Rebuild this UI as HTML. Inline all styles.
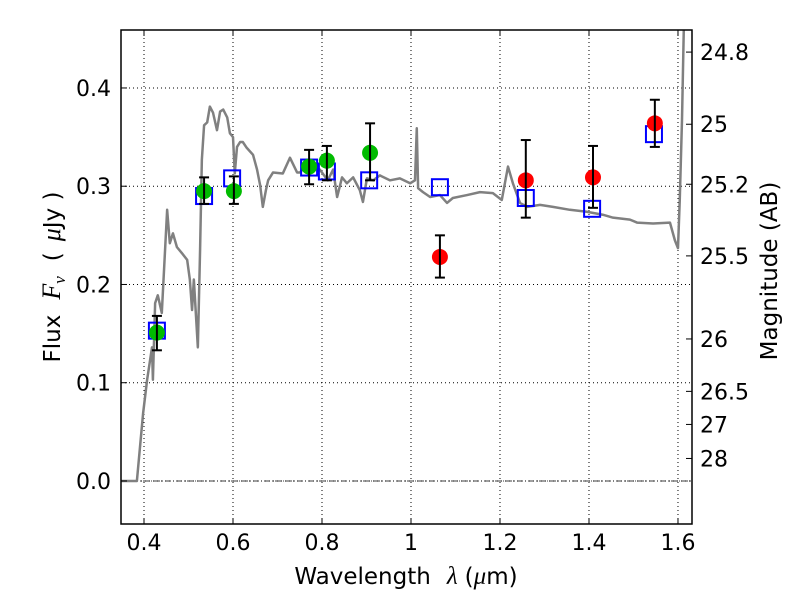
<!DOCTYPE html>
<html><head><meta charset="utf-8"><style>
body{margin:0;background:#fff;}
svg{display:block;font-family:"DejaVu Sans","Liberation Sans",sans-serif;}
</style></head><body>
<svg id="chart" width="800" height="600" xmlns="http://www.w3.org/2000/svg"></svg>
<script>
const specWave=[0.348,0.384,0.398,0.407,0.418,0.420,0.425,0.431,0.440,0.452,0.458,0.465,0.474,0.485,0.497,0.503,0.508,0.512,0.521,0.526,0.530,0.535,0.542,0.548,0.555,0.564,0.571,0.578,0.587,0.593,0.600,0.604,0.609,0.616,0.622,0.631,0.645,0.654,0.661,0.667,0.674,0.679,0.690,0.712,0.728,0.744,0.751,0.766,0.780,0.795,0.813,0.825,0.834,0.845,0.856,0.870,0.885,0.892,0.901,0.915,0.930,0.953,0.975,0.998,1.009,1.013,1.016,1.027,1.043,1.065,1.081,1.094,1.126,1.155,1.184,1.204,1.218,1.229,1.245,1.261,1.290,1.319,1.357,1.395,1.431,1.454,1.492,1.508,1.544,1.582,1.593,1.600,1.604,1.609,1.613,1.618];
const specFlux=[0,0,0.069,0.103,0.136,0.103,0.181,0.189,0.171,0.276,0.242,0.252,0.238,0.232,0.225,0.205,0.174,0.205,0.136,0.235,0.327,0.362,0.365,0.381,0.375,0.357,0.376,0.378,0.370,0.354,0.350,0.313,0.340,0.345,0.345,0.339,0.332,0.317,0.301,0.279,0.296,0.306,0.314,0.313,0.329,0.314,0.314,0.324,0.319,0.317,0.306,0.317,0.289,0.309,0.303,0.309,0.296,0.284,0.308,0.306,0.311,0.306,0.308,0.303,0.306,0.359,0.298,0.294,0.289,0.291,0.283,0.288,0.291,0.294,0.293,0.286,0.320,0.303,0.283,0.279,0.281,0.279,0.276,0.274,0.271,0.268,0.266,0.263,0.262,0.263,0.245,0.237,0.286,0.367,0.459,0.540];
const greenWave=[0.429,0.535,0.602,0.771,0.811,0.908];
const greenFlux=[0.151,0.295,0.295,0.320,0.326,0.334];
const greenHi=[0.168,0.309,0.310,0.337,0.341,0.364];
const greenLo=[0.133,0.282,0.282,0.302,0.306,0.306];
const redWave=[1.065,1.258,1.409,1.548];
const redFlux=[0.228,0.306,0.309,0.364];
const redHi=[0.250,0.347,0.341,0.388];
const redLo=[0.207,0.268,0.278,0.340];
const blueWave=[0.429,0.535,0.598,0.771,0.811,0.906,1.065,1.258,1.407,1.546];
const blueFlux=[0.153,0.290,0.308,0.319,0.315,0.306,0.299,0.288,0.277,0.353];
const xTicks=[0.4,0.6,0.8,1,1.2,1.4,1.6];
const xTickLabels=["0.4","0.6","0.8","1","1.2","1.4","1.6"];
const yTicks=[0,0.1,0.2,0.3,0.4];
const yTickLabels=["0.0","0.1","0.2","0.3","0.4"];
const magTicks=[24.8,25,25.2,25.5,26,26.5,27,28];
const magLabels=["24.8","25","25.2","25.5","26","26.5","27","28"];

const L=121,R=692,T=30,B=524;
const xmin=0.3483,xmax=1.6315,ymin=-0.0438,ymax=0.459;
const X=v=>L+(v-xmin)/(xmax-xmin)*(R-L);
const Y=v=>B-(v-ymin)/(ymax-ymin)*(B-T);
const NS="http://www.w3.org/2000/svg";
const svg=document.getElementById('chart');
function mk(tag,attrs,parent){const e=document.createElementNS(NS,tag);for(const k in attrs)e.setAttribute(k,attrs[k]);(parent||svg).appendChild(e);return e;}
function ts(parent,txt,attrs){const e=mk('tspan',attrs||{},parent);e.textContent=txt;return e;}

const defs=mk('defs',{});
const cp=mk('clipPath',{id:'clip'},defs);
mk('rect',{x:L,y:T,width:R-L,height:B-T},cp);

const grid=mk('g',{});


xTicks.forEach(v=>mk('line',{x1:X(v),x2:X(v),y1:T,y2:B,stroke:'#000','stroke-width':1,'stroke-dasharray':'1,3'},grid));
yTicks.forEach(v=>mk('line',{x1:L,x2:R,y1:Y(v),y2:Y(v),stroke:'#000','stroke-width':1,'stroke-dasharray':'1,3'},grid));

const plot=mk('g',{'clip-path':'url(#clip)'});
const z=mk('line',{x1:L,x2:R,y1:Y(0),y2:Y(0),stroke:'#000','stroke-width':0.8,'stroke-dasharray':'6,2,1,2'},plot);


const sp=mk('polyline',{points:specWave.map((w,i)=>X(w)+','+Y(specFlux[i])).join(' '),fill:'none',stroke:'#808080','stroke-width':2.5,'stroke-linejoin':'round'},plot);


blueWave.forEach((w,i)=>{const s=mk('rect',{x:X(w)-8,y:Y(blueFlux[i])-8,width:16,height:16,fill:'none',stroke:'#0000ff','stroke-width':2},plot);

});
function pts(wv,fl,hi,lo,col,name){wv.forEach((w,i)=>{
 const g=mk('g',{},plot);
 
 
 mk('circle',{cx:X(w),cy:Y(fl[i]),r:8,fill:col},g);
 const x=X(w);
 mk('line',{x1:x,x2:x,y1:Y(hi[i]),y2:Y(lo[i]),stroke:'#000','stroke-width':2},g);
 mk('line',{x1:x-5,x2:x+5,y1:Y(hi[i]),y2:Y(hi[i]),stroke:'#000','stroke-width':2},g);
 mk('line',{x1:x-5,x2:x+5,y1:Y(lo[i]),y2:Y(lo[i]),stroke:'#000','stroke-width':2},g);
});}
pts(greenWave,greenFlux,greenHi,greenLo,'#00bb00','green-photometry-point');
pts(redWave,redFlux,redHi,redLo,'#ff0000','red-photometry-point');

const fr=mk('rect',{x:L,y:T,width:R-L,height:B-T,fill:'none',stroke:'#000','stroke-width':1.5});


xTicks.forEach((v,i)=>{const x=X(v);
 mk('line',{x1:x,x2:x,y1:B,y2:B-6,stroke:'#000'});mk('line',{x1:x,x2:x,y1:T,y2:T+6,stroke:'#000'});
 const t=mk('text',{x:x,y:B+26,'text-anchor':'middle','font-size':22});t.textContent=xTickLabels[i];
 
 });
yTicks.forEach((v,i)=>{const y=Y(v);
 mk('line',{x1:L,x2:L+6,y1:y,y2:y,stroke:'#000'});
 const t=mk('text',{x:L-10,y:y+8,'text-anchor':'end','font-size':22});t.textContent=yTickLabels[i];
 
 });
magTicks.forEach((m,i)=>{const y=Y(Math.pow(10,(23.9-m)/2.5));
 mk('line',{x1:R,x2:R-6,y1:y,y2:y,stroke:'#000'});
 const t=mk('text',{x:R+8,y:y+8,'font-size':22});t.textContent=magLabels[i];
 
 });

const xl=mk('text',{x:406,y:584,'text-anchor':'middle','font-size':23});
ts(xl,'Wavelength');
ts(xl,'λ',{dx:16,'font-style':'italic','font-family':'Liberation Serif','font-size':25});
ts(xl,'(',{dx:7});
ts(xl,'μ',{'font-style':'italic','font-family':'Liberation Serif','font-size':25});
ts(xl,'m)');


const yl=mk('text',{x:0,y:0,'text-anchor':'middle','font-size':23,transform:'translate(60,277) rotate(-90)'});
ts(yl,'Flux');
ts(yl,'F',{dx:15,'font-style':'italic','font-family':'Liberation Serif','font-size':26});
ts(yl,'ν',{dy:5,'font-style':'italic','font-family':'Liberation Serif','font-size':17});
ts(yl,'(',{dy:-5,dx:15});
ts(yl,'μ',{dx:11,'font-style':'italic','font-family':'Liberation Serif','font-size':26});
ts(yl,'Jy )');


const rl=mk('text',{x:0,y:0,'text-anchor':'middle','font-size':23,transform:'translate(777,271) rotate(-90)'});
rl.textContent='Magnitude (AB)';


</script>
</body></html>
